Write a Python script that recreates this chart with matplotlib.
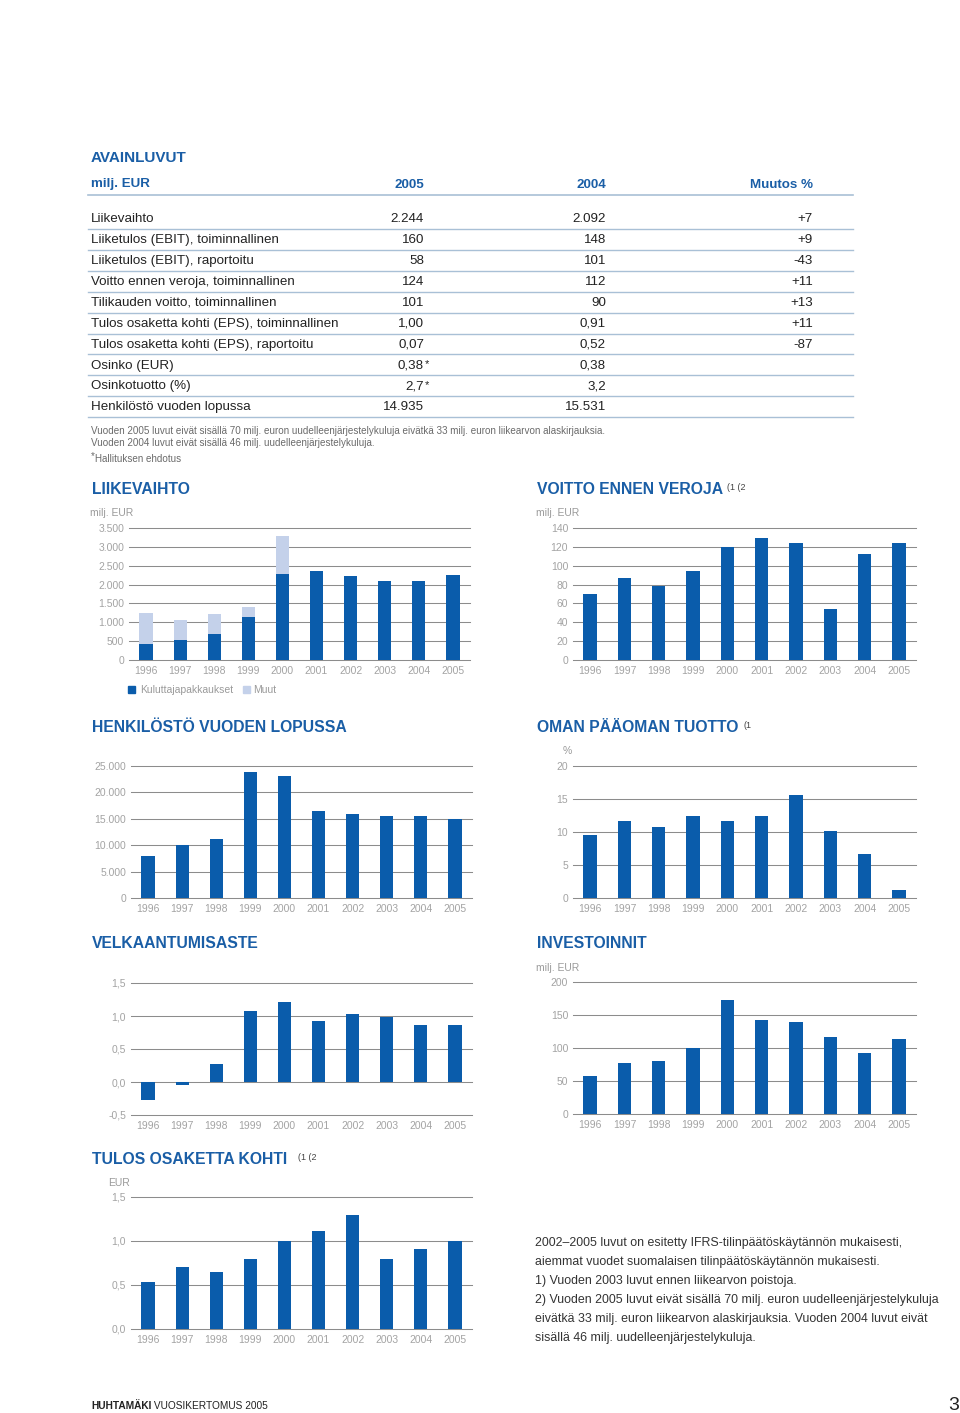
import numpy as np
import matplotlib
matplotlib.use("Agg")
import matplotlib.pyplot as plt
from matplotlib.patches import Rectangle

plt.rcParams['font.family'] = ['Liberation Sans', 'DejaVu Sans']

W, H = 960, 1413
BLUE = '#0a5cab'
LIGHT = '#c4d1ea'
TITLE = '#1a5ea6'
GRID = '#8c8c8c'
TICK = '#a3a3a3'
TEXT = '#222222'
RULE = '#a9c0d6'

years = ['1996', '1997', '1998', '1999', '2000', '2001', '2002', '2003', '2004', '2005']

# key figures table
table_header = ['milj. EUR', '2005', '2004', 'Muutos %']
table_rows = ['Liikevaihto',
              'Liiketulos (EBIT), toiminnallinen',
              'Liiketulos (EBIT), raportoitu',
              'Voitto ennen veroja, toiminnallinen',
              'Tilikauden voitto, toiminnallinen',
              'Tulos osaketta kohti (EPS), toiminnallinen',
              'Tulos osaketta kohti (EPS), raportoitu',
              'Osinko (EUR)',
              'Osinkotuotto (%)',
              'Henkilöstö vuoden lopussa']
table_2005 = ['2.244', '160', '58', '124', '101', '1,00', '0,07', '0,38', '2,7', '14.935']
table_2005_note = ['', '', '', '', '', '', '', '*', '*', '']
table_2004 = ['2.092', '148', '101', '112', '90', '0,91', '0,52', '0,38', '3,2', '15.531']
table_change = ['+7', '+9', '-43', '+11', '+13', '+11', '-87', '', '', '']
table_notes = ['Vuoden 2005 luvut eivät sisällä 70 milj. euron uudelleenjärjestelykuluja '
               'eivätkä 33 milj. euron liikearvon alaskirjauksia.',
               'Vuoden 2004 luvut eivät sisällä 46 milj. uudelleenjärjestelykuluja.']

# chart series
sales_consumer = [420, 540, 700, 1150, 2270, 2370, 2230, 2100, 2090, 2244]
sales_other = [830, 520, 510, 250, 1030, 0, 0, 0, 0, 0]
pretax = [70, 87, 79, 94, 120, 129, 124, 54, 112, 124]
personnel = [8000, 10000, 11100, 23900, 23100, 16500, 15900, 15600, 15531, 14935]
roe = [9.6, 11.7, 10.7, 12.5, 11.7, 12.5, 15.6, 10.2, 6.6, 1.2]
gearing = [-0.28, -0.04, 0.27, 1.08, 1.21, 0.93, 1.03, 0.99, 0.87, 0.86]
capex = [57, 77, 81, 100, 172, 143, 139, 117, 93, 113]
eps = [0.53, 0.71, 0.65, 0.79, 1.00, 1.11, 1.29, 0.79, 0.91, 1.00]

side_text = ['2002–2005 luvut on esitetty IFRS-tilinpäätöskäytännön mukaisesti,',
             'aiemmat vuodet suomalaisen tilinpäätöskäytännön mukaisesti.',
             '1) Vuoden 2003 luvut ennen liikearvon poistoja.',
             '2) Vuoden 2005 luvut eivät sisällä 70 milj. euron uudelleenjärjestelykuluja',
             'eivätkä 33 milj. euron liikearvon alaskirjauksia. Vuoden 2004 luvut eivät',
             'sisällä 46 milj. uudelleenjärjestelykuluja.']

fig = plt.figure(figsize=(W / 100, H / 100), dpi=100)
bg = fig.add_axes([0, 0, 1, 1])
bg.set_xlim(0, W)
bg.set_ylim(H, 0)
bg.axis('off')


def px_axes(x0, y0, x1, y1):
    return fig.add_axes([x0 / W, 1 - y1 / H, (x1 - x0) / W, (y1 - y0) / H], facecolor='none')


def bar_chart(box, values, ylim, yticks, ylabels, other=None):
    ax = px_axes(*box)
    x = np.arange(len(years))
    ax.bar(x, values, width=0.39, color=BLUE, zorder=3)
    if other is not None:
        ax.bar(x, other, width=0.39, bottom=values, color=LIGHT, zorder=3)
    for t in yticks:
        ax.axhline(t, color=GRID, lw=0.75, zorder=1, clip_on=False)
    ax.set_xlim(-0.5, 9.5)
    ax.set_ylim(ylim)
    ax.set_yticks(yticks)
    ax.set_yticklabels(ylabels)
    ax.set_xticks(x)
    ax.set_xticklabels(years)
    for s in ax.spines.values():
        s.set_visible(False)
    ax.tick_params(axis='y', length=0, labelsize=7.5, labelcolor=TICK, pad=3.5)
    ax.tick_params(axis='x', length=0, labelsize=7.5, labelcolor=TICK, pad=4)
    return ax


def title(x, y, s, sup=None, sup_x=None):
    bg.text(x, y + 1.5, s, fontsize=11.3, fontweight='bold', color=TITLE, va='center', ha='left')
    if sup:
        bg.text(sup_x, y - 0.5, sup, fontsize=6.5, color='#444444', va='center', ha='left')


def unit(x, y, s):
    bg.text(x, y + 1, s, fontsize=7.5, color='#9a9a9a', va='center', ha='left')


# ---- table ----
bg.text(91, 157.5, 'AVAINLUVUT', fontsize=11, fontweight='bold', color=TITLE, va='center')
hdr_x = [91, 424, 606, 813]
hdr_ha = ['left', 'right', 'right', 'right']
for s, x, ha in zip(table_header, hdr_x, hdr_ha):
    bg.text(x, 184.5, s, fontsize=9.6, fontweight='bold', color=TITLE, va='center', ha=ha)
bg.plot([88, 853], [195, 195], color=RULE, lw=1.2)

row_y0, row_dy = 218, 20.9
for i, name in enumerate(table_rows):
    y = row_y0 + i * row_dy
    ty = y + 1.2
    bg.text(91, ty, name, fontsize=9.6, color=TEXT, va='center', ha='left')
    bg.text(424, ty, table_2005[i], fontsize=9.6, color=TEXT, va='center', ha='right')
    if table_2005_note[i]:
        bg.text(425, ty - 1, table_2005_note[i], fontsize=8, color=TEXT, va='center', ha='left')
    bg.text(606, ty, table_2004[i], fontsize=9.6, color=TEXT, va='center', ha='right')
    bg.text(813, ty, table_change[i], fontsize=9.6, color=TEXT, va='center', ha='right')
    bg.plot([88, 853], [y + 11, y + 11], color=RULE, lw=1.0)

for i, s in enumerate(table_notes):
    bg.text(91, 431 + i * 12, s, fontsize=7.1, color='#6a6a6a', va='center', ha='left')
bg.text(91, 456, '*', fontsize=7.1, color='#6a6a6a', va='center', ha='left')
bg.text(95, 459, 'Hallituksen ehdotus', fontsize=7.1, color='#6a6a6a', va='center', ha='left')

# ---- charts ----
# Liikevaihto
title(92, 488, 'LIIKEVAIHTO')
unit(90, 512, 'milj. EUR')
bar_chart((129, 528, 470, 660), sales_consumer, (0, 3500),
          [0, 500, 1000, 1500, 2000, 2500, 3000, 3500],
          ['0', '500', '1.000', '1.500', '2.000', '2.500', '3.000', '3.500'],
          other=sales_other)
bg.add_patch(Rectangle((128, 686), 7, 7, color=BLUE))
bg.text(140, 690, 'Kuluttajapakkaukset', fontsize=7.5, color='#9a9a9a', va='center')
bg.add_patch(Rectangle((243, 686), 7, 7, color=LIGHT))
bg.text(253, 690, 'Muut', fontsize=7.5, color='#9a9a9a', va='center')

# Voitto ennen veroja
title(537, 488, 'VOITTO ENNEN VEROJA', '(1 (2', 727)
unit(536, 512, 'milj. EUR')
bar_chart((573, 528, 916, 660), pretax, (0, 140),
          list(range(0, 141, 20)), [str(v) for v in range(0, 141, 20)])

# Henkilöstö
title(92, 726, 'HENKILÖSTÖ VUODEN LOPUSSA')
bar_chart((131, 766, 472, 898), personnel, (0, 25000),
          [0, 5000, 10000, 15000, 20000, 25000],
          ['0', '5.000', '10.000', '15.000', '20.000', '25.000'])

# Oman pääoman tuotto
title(537, 726, 'OMAN PÄÄOMAN TUOTTO', '(1', 744)
unit(563, 750, '%')
bar_chart((573, 766, 916, 898), roe, (0, 20),
          [0, 5, 10, 15, 20], ['0', '5', '10', '15', '20'])

# Velkaantumisaste
title(92, 942, 'VELKAANTUMISASTE')
bar_chart((131, 983, 472, 1115), gearing, (-0.5, 1.5),
          [-0.5, 0, 0.5, 1.0, 1.5], ['-0,5', '0,0', '0,5', '1,0', '1,5'])

# Investoinnit
title(537, 942, 'INVESTOINNIT')
unit(536, 967, 'milj. EUR')
bar_chart((573, 982, 916, 1114), capex, (0, 200),
          [0, 50, 100, 150, 200], ['0', '50', '100', '150', '200'])

# Tulos osaketta kohti
title(92, 1158, 'TULOS OSAKETTA KOHTI', '(1 (2', 298)
unit(108, 1182, 'EUR')
bar_chart((131, 1197, 472, 1329), eps, (0, 1.5),
          [0, 0.5, 1.0, 1.5], ['0,0', '0,5', '1,0', '1,5'])

# side notes
for i, s in enumerate(side_text):
    bg.text(535, 1243 + i * 19, s, fontsize=8.9, color='#333333', va='center', ha='left')

# footer
brand = bg.text(91, 1406, 'HUHTAMÄKI', fontsize=7.3, fontweight='bold', color=TEXT, va='center')
bg.annotate(' VUOSIKERTOMUS 2005', xy=(1, 0.5), xycoords=brand, fontsize=7.3,
            color=TEXT, va='center', ha='left')
bg.text(959, 1405, '3', fontsize=14, color=TEXT, va='center', ha='right')

fig.savefig('out.png', dpi=100)
